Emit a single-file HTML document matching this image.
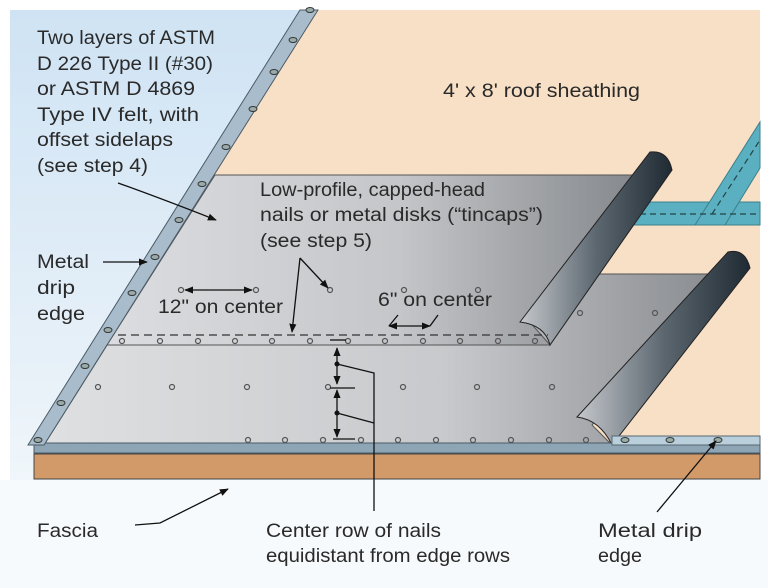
<!DOCTYPE html>
<html><head><meta charset="utf-8"><style>
html,body{margin:0;padding:0;background:#fff}
svg{display:block}
text{font-family:"Liberation Sans",Arial,sans-serif;font-size:19px;fill:#2a2a2a}
</style></head><body>
<svg width="768" height="588" viewBox="0 0 768 588" xmlns="http://www.w3.org/2000/svg">
<defs>
<linearGradient id="sky" x1="0" y1="0" x2="0" y2="1">
<stop offset="0" stop-color="#cfe3f4"/><stop offset="0.6" stop-color="#e6f0f8"/><stop offset="1" stop-color="#f8fbfd"/>
</linearGradient>
<linearGradient id="felt" x1="0" y1="0" x2="1" y2="0">
<stop offset="0" stop-color="#dcdde0"/><stop offset="0.55" stop-color="#c4c6c9"/><stop offset="1" stop-color="#85888c"/>
</linearGradient>
<linearGradient id="felt2" x1="0" y1="0" x2="1" y2="0">
<stop offset="0" stop-color="#dfe0e2"/><stop offset="0.6" stop-color="#c8c9cc"/><stop offset="1" stop-color="#8a8d91"/>
</linearGradient>
<linearGradient id="roll" x1="0" y1="0" x2="1" y2="0">
<stop offset="0" stop-color="#c5c8cc"/><stop offset="0.5" stop-color="#5c6770"/><stop offset="1" stop-color="#1f2a33"/>
</linearGradient>
<marker id="ah" viewBox="0 0 10 10" refX="9" refY="5" markerWidth="9" markerHeight="9" orient="auto-start-reverse" markerUnits="userSpaceOnUse"><path d="M0,1 L10,5 L0,9 z" fill="#111"/></marker>
</defs>
<rect x="0" y="0" width="768" height="588" fill="#fff"/>
<rect x="10" y="10" width="750" height="570" fill="url(#sky)"/>
<rect x="0" y="480" width="768" height="108" fill="#f7fafc"/>
<polygon points="312,10 760,10 760,450 40,450" fill="#f8e0c6"/>
<rect x="600" y="202" width="160" height="23" fill="#5ab0c0" stroke="#3c7f8c" stroke-width="1"/>
<polygon points="695,225 725,225 760,168 760,122" fill="#5ab0c0" stroke="#3c7f8c" stroke-width="1"/>
<line x1="600" y1="214" x2="760" y2="214" stroke="#244" stroke-dasharray="6,4" stroke-width="1.2"/>
<line x1="712" y1="214" x2="760" y2="140" stroke="#244" stroke-dasharray="6,4" stroke-width="1.2"/>
<polygon points="152,274 713,274 592,425 612,445 44,445" fill="url(#felt2)" stroke="#555" stroke-width="1"/>
<path d="M577,417 L728,252 Q745,248 750,268 L612,445 Q600,420 577,417 Z" fill="url(#roll)" stroke="#222" stroke-width="1"/>
<polygon points="215,175 637,175 528,320 550,345 107,345" fill="url(#felt)" stroke="#555" stroke-width="1"/>
<path d="M520,322 L650,152 Q668,150 672,170 L550,345 Q545,325 520,322 Z" fill="url(#roll)" stroke="#222" stroke-width="1"/>
<rect x="34" y="443" width="726" height="10" fill="#8ea5b5" stroke="#4b5b66" stroke-width="1"/>
<rect x="612" y="436" width="148" height="9" fill="#b9cfdc" stroke="#56666f" stroke-width="1"/>
<rect x="34" y="454" width="726" height="25" fill="#d29a68" stroke="#444" stroke-width="1"/>
<polygon points="300,10 318,10 44,445 28,445" fill="#a9bccb" stroke="#4b5b66" stroke-width="1"/>
<g fill="#9aa" stroke="#333" stroke-width="1">
<ellipse cx="310" cy="10" rx="4" ry="2.5"/><ellipse cx="293" cy="40" rx="4" ry="2.5"/><ellipse cx="274" cy="72" rx="4" ry="2.5"/><ellipse cx="253" cy="109" rx="4" ry="2.5"/><ellipse cx="226" cy="147" rx="4" ry="2.5"/><ellipse cx="202" cy="184" rx="4" ry="2.5"/><ellipse cx="179" cy="220" rx="4" ry="2.5"/><ellipse cx="155" cy="257" rx="4" ry="2.5"/><ellipse cx="132" cy="293" rx="4" ry="2.5"/><ellipse cx="108" cy="330" rx="4" ry="2.5"/><ellipse cx="85" cy="366" rx="4" ry="2.5"/><ellipse cx="61" cy="403" rx="4" ry="2.5"/><ellipse cx="38" cy="440" rx="4" ry="2.5"/>
<ellipse cx="625" cy="440" rx="4" ry="2.5"/><ellipse cx="670" cy="440" rx="4" ry="2.5"/><ellipse cx="718" cy="440" rx="4" ry="2.5"/>
</g>
<g fill="none" stroke="#555" stroke-width="1.2">
<circle cx="122" cy="341" r="2.5"/><circle cx="160" cy="341" r="2.5"/><circle cx="198" cy="341" r="2.5"/><circle cx="235" cy="341" r="2.5"/><circle cx="272" cy="341" r="2.5"/><circle cx="310" cy="341" r="2.5"/><circle cx="348" cy="341" r="2.5"/><circle cx="385" cy="341" r="2.5"/><circle cx="423" cy="341" r="2.5"/><circle cx="460" cy="341" r="2.5"/><circle cx="498" cy="341" r="2.5"/><circle cx="535" cy="341" r="2.5"/>
<circle cx="181" cy="290" r="2.5"/><circle cx="256" cy="290" r="2.5"/><circle cx="330" cy="290" r="2.5"/><circle cx="404" cy="290" r="2.5"/><circle cx="478" cy="290" r="2.5"/>
<circle cx="580" cy="313" r="2.5"/><circle cx="655" cy="313" r="2.5"/>
<circle cx="98" cy="387" r="2.5"/><circle cx="172" cy="387" r="2.5"/><circle cx="247" cy="387" r="2.5"/><circle cx="328" cy="387" r="2.5"/><circle cx="403" cy="387" r="2.5"/><circle cx="477" cy="387" r="2.5"/><circle cx="552" cy="387" r="2.5"/>
<circle cx="248" cy="440" r="2.5"/><circle cx="285" cy="440" r="2.5"/><circle cx="323" cy="440" r="2.5"/><circle cx="361" cy="440" r="2.5"/><circle cx="398" cy="440" r="2.5"/><circle cx="436" cy="440" r="2.5"/><circle cx="473" cy="440" r="2.5"/><circle cx="511" cy="440" r="2.5"/><circle cx="549" cy="440" r="2.5"/><circle cx="586" cy="440" r="2.5"/>
</g>
<line x1="118" y1="335" x2="548" y2="335" stroke="#333" stroke-width="1.3" stroke-dasharray="8,5"/>
<g stroke="#111" stroke-width="1.3" fill="none">
<path d="M118,183 Q160,198 216,220" marker-end="url(#ah)"/>
<line x1="103" y1="262" x2="147" y2="262" marker-end="url(#ah)"/>
<line x1="300" y1="258" x2="292" y2="332" marker-end="url(#ah)"/>
<line x1="300" y1="258" x2="328" y2="288" marker-end="url(#ah)"/>
<line x1="185" y1="290" x2="252" y2="290" marker-start="url(#ah)" marker-end="url(#ah)"/>
<line x1="389" y1="326" x2="430" y2="326" marker-start="url(#ah)" marker-end="url(#ah)"/>
<line x1="389" y1="326" x2="398" y2="315"/><line x1="430" y1="326" x2="438" y2="315"/>
<line x1="337" y1="348" x2="337" y2="384" marker-start="url(#ah)" marker-end="url(#ah)"/>
<line x1="337" y1="390" x2="337" y2="437" marker-start="url(#ah)" marker-end="url(#ah)"/>
<line x1="330" y1="340" x2="346" y2="340"/><line x1="330" y1="388" x2="355" y2="388"/><line x1="333" y1="439" x2="355" y2="439"/>
<polyline points="337,364 374,373 374,511"/>
<line x1="337" y1="413" x2="374" y2="423"/>
<path d="M135,525 L160,523 L228,489" marker-end="url(#ah)"/>
<line x1="657" y1="512" x2="716" y2="441" marker-end="url(#ah)"/>
</g>
<circle cx="337" cy="364" r="2.5" fill="#111"/><circle cx="337" cy="413" r="2.5" fill="#111"/>
<text x="37" y="44" textLength="178" lengthAdjust="spacingAndGlyphs">Two layers of ASTM</text>
<text x="37" y="70" textLength="176" lengthAdjust="spacingAndGlyphs">D 226 Type II (#30)</text>
<text x="37" y="95" textLength="158" lengthAdjust="spacingAndGlyphs">or ASTM D 4869</text>
<text x="37" y="121" textLength="162" lengthAdjust="spacingAndGlyphs">Type IV  felt, with</text>
<text x="37" y="146" textLength="136" lengthAdjust="spacingAndGlyphs">offset sidelaps</text>
<text x="37" y="172" textLength="111" lengthAdjust="spacingAndGlyphs">(see step 4)</text>
<text x="443" y="97" textLength="197" lengthAdjust="spacingAndGlyphs">4' x 8' roof sheathing</text>
<text x="260" y="196" textLength="225" lengthAdjust="spacingAndGlyphs">Low-profile, capped-head</text>
<text x="260" y="221" textLength="283" lengthAdjust="spacingAndGlyphs">nails or metal disks (“tincaps”)</text>
<text x="260" y="247" textLength="112" lengthAdjust="spacingAndGlyphs">(see step 5)</text>
<text x="37" y="268" textLength="52" lengthAdjust="spacingAndGlyphs">Metal</text>
<text x="37" y="294" textLength="38" lengthAdjust="spacingAndGlyphs">drip</text>
<text x="37" y="320" textLength="48" lengthAdjust="spacingAndGlyphs">edge</text>
<text x="158" y="313" textLength="125" lengthAdjust="spacingAndGlyphs">12" on center</text>
<text x="378" y="306" textLength="114" lengthAdjust="spacingAndGlyphs">6" on center</text>
<text x="37" y="537" textLength="61" lengthAdjust="spacingAndGlyphs">Fascia</text>
<text x="266" y="537" textLength="175" lengthAdjust="spacingAndGlyphs">Center row of nails</text>
<text x="266" y="562" textLength="244" lengthAdjust="spacingAndGlyphs">equidistant from edge rows</text>
<text x="598" y="537" textLength="104" lengthAdjust="spacingAndGlyphs">Metal drip</text>
<text x="598" y="562" textLength="44" lengthAdjust="spacingAndGlyphs">edge</text>
</svg>
</body></html>
